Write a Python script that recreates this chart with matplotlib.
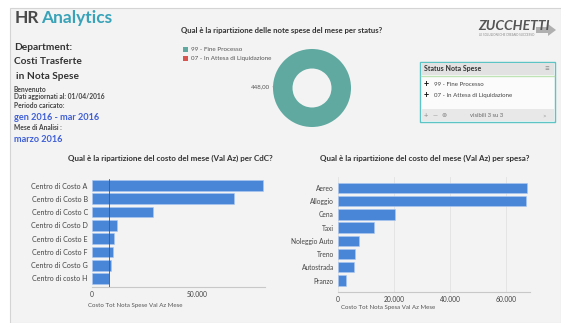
import matplotlib
matplotlib.use("Agg")
import matplotlib.pyplot as plt
from matplotlib.patches import Rectangle, Polygon

plt.rcParams['font.family'] = ['Lato', 'DejaVu Sans']

# ---------------- data ----------------
cdc_labels = ["Centro di Costo A", "Centro di Costo B", "Centro di Costo C", "Centro di Costo D",
              "Centro di Costo E", "Centro di Costo F", "Centro di Costo G", "Centro di costo H"]
cdc_values = [81400, 67600, 29000, 11900, 10500, 10000, 9000, 8000]
cdc_refline = 8000

spesa_labels = ["Aereo", "Alloggio", "Cena", "Taxi", "Noleggio Auto", "Treno", "Autostrada", "Pranzo"]
spesa_values = [67500, 67300, 20400, 12800, 7500, 6000, 5700, 2800]

status_labels = ["99 - Fine Processo", "07 - In Attesa di Liquidazione"]
status_values = [448.0, 0.0]
status_colors = ["#5fa9a1", "#d9534f"]

cdc_ticks = [0, 50000]
cdc_ticklabels = ["0", "50.000"]
spesa_ticks = [0, 20000, 40000, 60000]
spesa_ticklabels = ["0", "20.000", "40.000", "60.000"]

W, H = 561, 323
fig = plt.figure(figsize=(W / 100, H / 100), dpi=100, facecolor="white")

def rect(x0, y0, x1, y1):
    return [x0 / W, 1 - y1 / H, (x1 - x0) / W, (y1 - y0) / H]

def fx(x):
    return x / W

def fy(y):
    return 1 - y / H

# background panel
bg = fig.add_axes([0, 0, 1, 1])
bg.set_xlim(0, W)
bg.set_ylim(H, 0)
bg.axis("off")
bg.add_patch(Rectangle((10, 8), W - 10, H - 8, facecolor="#f3f3f3", edgecolor="#d4d4d4", lw=0.8))

# ---------------- header texts ----------------
fig.text(fx(15), fy(18), "HR", fontsize=12.5, fontweight="bold", color="#4a4a4a", va="center", ha="left")
fig.text(fx(41), fy(18), "Analytics", fontsize=12.5, fontweight="bold", color="#38a3b8", va="center", ha="left")

left_txt = [
    (14, 48, "Department:"),
    (14, 62, "Costi Trasferte"),
    (16, 76, "in Nota Spese"),
]
for x, y, t in left_txt:
    fig.text(fx(x), fy(y), t, fontsize=7.3, fontweight="bold", color="#333333", va="center", ha="left")
small_txt = [(89, "Benvenuto"), (97, "Dati aggiornati al: 01/04/2016"), (105, "Periodo caricato:"),
             (128, "Mese di Analisi :")]
for y, t in small_txt:
    fig.text(fx(14), fy(y), t, fontsize=4.8, fontweight="bold", color="#444444", va="center", ha="left")
fig.text(fx(14), fy(117), "gen 2016 - mar 2016", fontsize=6.6, fontweight="bold", color="#3f5fd6", va="center", ha="left")
fig.text(fx(14), fy(139), "marzo 2016", fontsize=6.6, fontweight="bold", color="#3f5fd6", va="center", ha="left")

# ---------------- logo ----------------
fig.text(fx(478), fy(26), "ZUCCHETTI", fontsize=10, fontweight="bold", color="#555555", va="center", ha="left",
         fontstyle="italic")
bg.add_patch(Polygon([[536, 27], [548, 27], [548, 24], [556, 30], [548, 36], [548, 33], [536, 33]],
                     closed=True, facecolor="#b0b0b0", edgecolor="none"))
fig.text(fx(479), fy(35), "LE SOLUZIONI CHE CREANO SUCCESSO", fontsize=2.2, color="#888888", va="center", ha="left")

# ---------------- donut ----------------
fig.text(fx(282), fy(30), "Qual è la ripartizione delle note spese del mese per status?", fontsize=5.6,
         fontweight="bold", color="#333333", va="center", ha="center")
dax = fig.add_axes(rect(273, 49, 351, 127))
dax.pie(status_values, colors=status_colors, startangle=90, counterclock=False,
        wedgeprops=dict(width=0.5, edgecolor="none"))
dax.set_xlim(-1.0, 1.0)
dax.set_ylim(-1.0, 1.0)
dax.set_aspect("equal")
dax.annotate(f"{status_values[0]:.2f}".replace(".", ","), xy=(-1.0, 0.03), xytext=(-1.08, 0.03),
             fontsize=4.4, color="#555555", ha="right", va="center", annotation_clip=False,
             arrowprops=dict(arrowstyle="-", color="#999999", lw=0.5))
for i, (lab, col) in enumerate(zip(status_labels, status_colors)):
    y = 50 + i * 9
    bg.add_patch(Rectangle((183, y - 3), 5, 5, facecolor=col, edgecolor="none"))
    fig.text(fx(191), fy(y - 0.5), lab, fontsize=4.5, color="#555555", va="center", ha="left")

# ---------------- status box ----------------
bx0, by0, bx1, by1 = 420, 62, 555, 122
bg.add_patch(Rectangle((bx0, by0), bx1 - bx0, by1 - by0, facecolor="#fbfbfb", edgecolor="#5cc4c4", lw=1.0, zorder=2))
bg.add_patch(Rectangle((bx0 + 1, by0 + 1), bx1 - bx0 - 2, 12, facecolor="#e2e2e2", edgecolor="none", zorder=3))
bg.plot([bx0 + 1, bx1 - 1], [by0 + 13.5, by0 + 13.5], color="#bfe3b5", lw=1.0, zorder=4)
bg.add_patch(Rectangle((bx0 + 1, by1 - 13), bx1 - bx0 - 2, 12, facecolor="#e8e8e8", edgecolor="none", zorder=3))
fig.text(fx(424), fy(69), "Status Nota Spese", fontsize=5.0, fontweight="bold", color="#333333", va="center", ha="left", zorder=5)
fig.text(fx(547), fy(69), "≡", fontsize=6, color="#888888", va="center", ha="center", zorder=5)
for i, lab in enumerate(status_labels):
    y = 85 + i * 10
    fig.text(fx(426), fy(y), "+", fontsize=6.5, fontweight="bold", color="#111111", va="center", ha="center", zorder=5)
    fig.text(fx(434), fy(y), lab, fontsize=4.4, color="#444444", va="center", ha="left", zorder=5)
fig.text(fx(426), fy(116), "+", fontsize=5.5, color="#888888", va="center", ha="center", zorder=5)
fig.text(fx(435), fy(116), "—", fontsize=4.5, color="#888888", va="center", ha="center", zorder=5)
fig.text(fx(444), fy(116), "⊗", fontsize=4.5, color="#888888", va="center", ha="center", zorder=5)
fig.text(fx(470), fy(116), "visibili 3 su 3", fontsize=4.2, color="#666666", va="center", ha="left", zorder=5)
fig.text(fx(544), fy(116), ">", fontsize=4.5, color="#999999", va="center", ha="center", zorder=5)

# ---------------- bar charts ----------------
bar_color = "#4a86d8"

def barchart(pos, labels, values, xlim, ticks, ticklabels, title, title_xy, xlabel, xlabel_xy,
             height, ylim, grid, ylab_size):
    ax = fig.add_axes(pos)
    ax.set_facecolor("none")
    y = list(range(len(values)))
    ax.barh(y, values, height=height, color=bar_color, edgecolor="#aac8f0", linewidth=0.4, zorder=3)
    ax.set_yticks(y)
    ax.set_yticklabels(labels, fontsize=ylab_size, color="#444444")
    ax.set_ylim(*ylim)
    ax.set_xlim(*xlim)
    ax.set_xticks(ticks)
    ax.set_xticklabels(ticklabels, fontsize=4.8, color="#444444")
    ax.tick_params(length=0, pad=3)
    for s in ["top", "right", "left"]:
        ax.spines[s].set_visible(False)
    ax.spines["bottom"].set_color("#c8c8c8")
    ax.spines["bottom"].set_linewidth(0.8)
    if grid:
        ax.xaxis.grid(True, color="#e2e2e2", lw=0.6, zorder=0)
    fig.text(fx(title_xy[0]), fy(title_xy[1]), title, fontsize=5.8, fontweight="bold", color="#333333",
             ha="center", va="center")
    fig.text(fx(xlabel_xy[0]), fy(xlabel_xy[1]), xlabel, fontsize=4.4, color="#555555", ha="left", va="center")
    return ax

axL = barchart(rect(92, 174.9, 265, 287), cdc_labels, cdc_values, (0, 82400), cdc_ticks, cdc_ticklabels,
               "Qual è la ripartizione del costo del mese (Val Az) per CdC?", (170, 158),
               "Costo Tot Nota Spese Val Az Mese", (88, 305), 0.8, (7.64, -0.8), False, 5.1)
axL.plot([cdc_refline, cdc_refline], [7.64, -0.5], color="#555555", lw=0.6, zorder=4)

axR = barchart(rect(338, 177.4, 530, 292), spesa_labels, spesa_values, (0, 68600), spesa_ticks, spesa_ticklabels,
               "Qual è la ripartizione del costo del mese (Val Az) per spesa?", (425, 158),
               "Costo Tot Nota Spesa Val Az Mese", (341, 308), 0.78, (7.87, -0.8), True, 4.8)

fig.savefig("out.png", dpi=100, facecolor="white")
